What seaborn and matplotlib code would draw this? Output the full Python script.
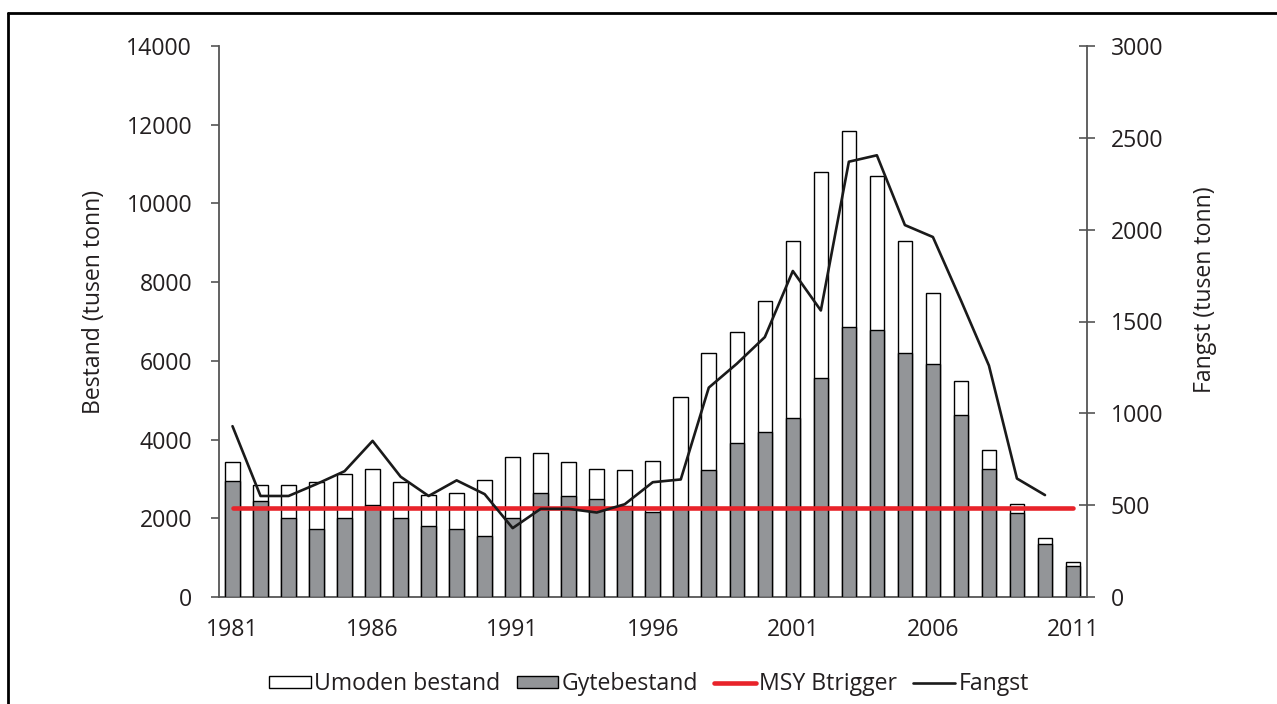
import numpy as np
import pandas as pd
import matplotlib
matplotlib.use('Agg')
import matplotlib.pyplot as plt
import seaborn as sns
from matplotlib.patches import Patch
from matplotlib.lines import Line2D

# ---- data (tusen tonn) ----
years = list(range(1981, 2012))
total_stock = [3420, 2850, 2850, 2930, 3130, 3260, 2930, 2600, 2650, 2970,
               3550, 3660, 3420, 3250, 3220, 3460, 5080, 6210, 6740, 7510,
               9040, 10790, 11840, 10700, 9040, 7720, 5480, 3740, 2360, 1510, 900]
spawning_stock = [2940, 2440, 2000, 1720, 2000, 2340, 2000, 1810, 1720, 1560,
                  2010, 2640, 2560, 2490, 2320, 2160, 2280, 3220, 3910, 4190,
                  4550, 5570, 6850, 6780, 6210, 5930, 4630, 3260, 2140, 1350, 780]
catch = [930, 550, 550, 615, 685, 850, 655, 550, 635, 560,
         375, 480, 480, 460, 505, 625, 640, 1140, 1270, 1415,
         1775, 1560, 2370, 2405, 2025, 1960, 1615, 1260, 645, 555, np.nan]
msy_btrigger = 2250
x_tick_years = [1981, 1986, 1991, 1996, 2001, 2006, 2011]
left_ticks = [0, 2000, 4000, 6000, 8000, 10000, 12000, 14000]
right_ticks = [0, 500, 1000, 1500, 2000, 2500, 3000]

labels = ["Umoden bestand", "Gytebestand", "MSY Btrigger", "Fangst"]

# ---- styling ----
sns.set_theme(style='white')
plt.rcParams['font.family'] = ['Open Sans', 'DejaVu Sans']
TXT = '#231f20'
SPINE = '#555555'
GRAY = '#939598'
RED = '#e8232a'
FS = 16.6

df = pd.DataFrame({
    'year': [str(y) for y in years],
    'pos': np.arange(len(years)),
    'total': total_stock,
    'spawn': spawning_stock,
    'catch': catch,
    'msy': [msy_btrigger] * len(years),
})

W, H = 1277, 704
fig = plt.figure(figsize=(W / 100, H / 100), dpi=100)
ax = fig.add_axes([218.5 / W, 1 - 597 / H, (1087 - 218.5) / W, (597 - 46) / H])

sns.barplot(data=df, x='year', y='total', color='white', edgecolor='black',
            linewidth=1.0, width=0.52, saturation=1, ax=ax, zorder=2)
sns.barplot(data=df, x='year', y='spawn', color=GRAY, edgecolor='black',
            linewidth=1.0, width=0.52, saturation=1, ax=ax, zorder=3)
sns.lineplot(data=df, x='pos', y='msy', color=RED, linewidth=3.3, ax=ax,
             zorder=5, solid_capstyle='round')

ax2 = ax.twinx()
sns.lineplot(data=df.dropna(subset=['catch']), x='pos', y='catch', color='#1a1a1a',
             linewidth=1.9, ax=ax2, zorder=6)

n = len(years)
ax.set_xlim(-0.5, n - 0.5)
ax.set_ylim(0, 14000)
ax2.set_ylim(0, 3000)
ax.set_yticks(left_ticks)
ax.set_yticklabels([str(t) for t in left_ticks])
ax2.set_yticks(right_ticks)
ax2.set_yticklabels([str(t) for t in right_ticks])

tick_pos = [years.index(y) for y in x_tick_years]
ax.set_xticks(tick_pos)
ax.set_xticklabels([str(y) for y in x_tick_years])
ax.set_xticks(np.arange(-0.5, n, 1), minor=True)

ax.set_xlabel('')
ax.set_ylabel('')
ax2.set_ylabel('')
ax2.set_xlabel('')

ax.tick_params(axis='x', which='major', length=0, pad=15, labelsize=FS, labelcolor=TXT)
ax.tick_params(axis='x', which='minor', length=6, width=1.2, color=SPINE, direction='out')
ax.tick_params(axis='y', which='major', length=6, width=1.2, color=SPINE, direction='out',
               pad=13, labelsize=FS, labelcolor=TXT, left=True)
ax2.tick_params(axis='y', which='major', length=12, width=1.2, color=SPINE, direction='inout',
                pad=11, labelsize=FS, labelcolor=TXT, right=True)

for sp in ['top', 'right']:
    ax.spines[sp].set_visible(False)
for sp in ['top', 'left', 'bottom']:
    ax2.spines[sp].set_visible(False)
for sp in ['left', 'bottom']:
    ax.spines[sp].set_color(SPINE)
    ax.spines[sp].set_linewidth(1.3)
ax2.spines['right'].set_color(SPINE)
ax2.spines['right'].set_linewidth(1.3)
ax.grid(False)
ax2.grid(False)

fig.text(94 / W, 1 - 302 / H, 'Bestand (tusen tonn)', rotation=90, ha='center',
         va='center', fontsize=FS, color=TXT)
fig.text(1205 / W, 1 - 290 / H, 'Fangst (tusen tonn)', rotation=90, ha='center',
         va='center', fontsize=FS, color=TXT)

handles = [Patch(facecolor='white', edgecolor='black', linewidth=1.0),
           Patch(facecolor=GRAY, edgecolor='black', linewidth=1.0),
           Line2D([], [], color=RED, linewidth=3.3),
           Line2D([], [], color='#1a1a1a', linewidth=1.9)]
leg = fig.legend(handles, labels, loc='center', bbox_to_anchor=(649 / W, 1 - 684 / H),
                 ncol=4, frameon=False, fontsize=FS, handlelength=1.8, handleheight=0.4,
                 handletextpad=0.15, columnspacing=0.7, borderaxespad=0)
for t in leg.get_texts():
    t.set_color(TXT)

# figure frame (top and left border)
fig.add_artist(Line2D([8 / W, 1], [1 - 13 / H, 1 - 13 / H], transform=fig.transFigure,
                      color='black', linewidth=2))
fig.add_artist(Line2D([8 / W, 8 / W], [0, 1 - 13 / H], transform=fig.transFigure,
                      color='black', linewidth=2))

fig.savefig('out.png', dpi=100)
